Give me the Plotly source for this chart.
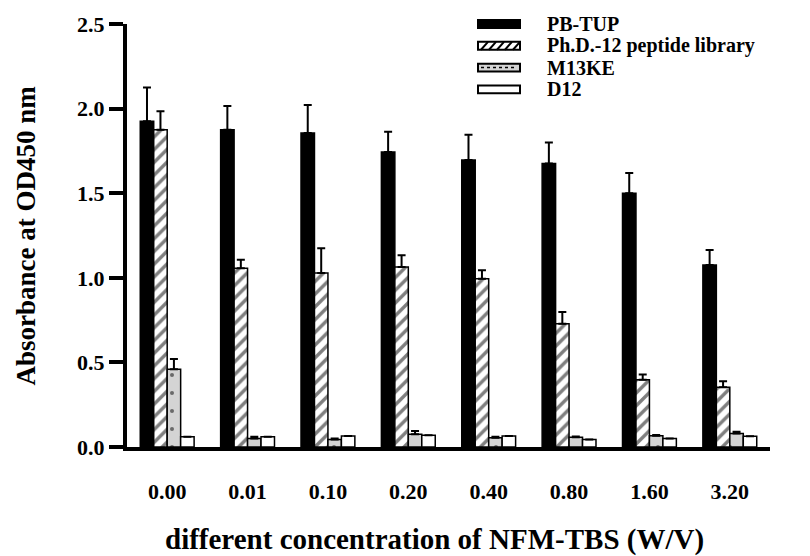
import plotly.graph_objects as go

categories = ["0.00", "0.01", "0.10", "0.20", "0.40", "0.80", "1.60", "3.20"]
series_names = ["PB-TUP", "Ph.D.-12 peptide library", "M13KE", "D12"]

pb_tup = [1.925, 1.875, 1.856, 1.743, 1.696, 1.675, 1.499, 1.075]
pb_tup_err = [0.20, 0.14, 0.165, 0.12, 0.15, 0.125, 0.12, 0.09]
phd12 = [1.875, 1.056, 1.029, 1.064, 0.995, 0.728, 0.398, 0.353]
phd12_err = [0.11, 0.05, 0.145, 0.07, 0.05, 0.07, 0.03, 0.035]
m13ke = [0.46, 0.05, 0.045, 0.075, 0.055, 0.057, 0.066, 0.08]
m13ke_err = [0.06, 0.01, 0.005, 0.02, 0.005, 0.005, 0.005, 0.01]
d12 = [0.06, 0.06, 0.065, 0.07, 0.065, 0.045, 0.05, 0.064]
d12_err = [0, 0, 0, 0, 0, 0, 0, 0]

y_ticks = [0.0, 0.5, 1.0, 1.5, 2.0, 2.5]

FONT = "Liberation Serif"

fig = go.Figure()

def add_series(name, vals, errs, color, pattern=None):
    marker = dict(color=color, line=dict(color="black", width=1.5))
    if pattern:
        marker["pattern"] = pattern
    fig.add_trace(go.Bar(
        name=name, x=categories, y=vals, marker=marker,
        error_y=dict(type="data", array=errs, arrayminus=[0] * len(errs),
                     symmetric=False, color="black", thickness=2, width=4),
        showlegend=False,
    ))

add_series(series_names[0], pb_tup, pb_tup_err, "black")
add_series(series_names[1], phd12, phd12_err, "white",
           dict(shape="/", fgcolor="black", bgcolor="white", size=9, solidity=0.38))
add_series(series_names[2], m13ke, m13ke_err, "#d4d4d4",
           dict(shape=".", fgcolor="black", bgcolor="#d4d4d4", size=18, solidity=0.04))
add_series(series_names[3], d12, d12_err, "white")

# plot area geometry (pixels) for legend placement
L, R, T, B = 127, 40, 20, 109
W, H = 810, 556
PW, PH = W - L - R, H - T - B

def px(x):
    return (x - L) / PW

def py(y):
    return (H - B - y) / PH

shapes = []
annotations = []
rows_y = [20, 42, 64, 86]
sx0, sx1 = 478, 520
hh = 4
for i, (name, yc) in enumerate(zip(series_names, rows_y)):
    fill = ["black", "white", "#d4d4d4", "white"][i]
    shapes.append(dict(type="rect", xref="paper", yref="paper",
                       x0=px(sx0), x1=px(sx1), y0=py(yc + hh), y1=py(yc - hh),
                       fillcolor=fill, line=dict(color="black", width=2)))
    if i == 1:
        path = ""
        xs = sx0 + 3
        while xs < sx1 - 2:
            path += f"M{px(xs)},{py(yc + hh)} L{px(xs + 7)},{py(yc - hh)} "
            xs += 8
        shapes.append(dict(type="path", xref="paper", yref="paper", path=path,
                           line=dict(color="black", width=2)))
    if i == 2:
        shapes.append(dict(type="line", xref="paper", yref="paper",
                           x0=px(sx0 + 3), x1=px(sx1 - 3), y0=py(yc), y1=py(yc),
                           line=dict(color="black", width=1.5, dash="dot")))
    annotations.append(dict(text=name, xref="paper", yref="paper",
                            x=px(545), y=py(yc), xanchor="left", yanchor="middle",
                            showarrow=False,
                            font=dict(family=FONT, size=20, color="black", weight="bold")))

annotations.append(dict(text="Absorbance at OD450 nm", xref="paper", yref="paper",
                        x=px(25), y=0.5, xanchor="center", yanchor="middle",
                        textangle=-90, showarrow=False,
                        font=dict(family=FONT, size=27, color="black", weight="bold")))
annotations.append(dict(text="different concentration of NFM-TBS (W/V)", xref="paper", yref="paper",
                        x=px(434), y=py(540), xanchor="center", yanchor="middle",
                        showarrow=False,
                        font=dict(family=FONT, size=29, color="black", weight="bold")))

fig.update_layout(
    width=W, height=H,
    margin=dict(l=L, r=R, t=T, b=B),
    paper_bgcolor="white", plot_bgcolor="white",
    barmode="group", bargap=0.33, bargroupgap=0,
    font=dict(family=FONT, color="black", weight="bold"),
    shapes=shapes, annotations=annotations,
    showlegend=False,
)
fig.update_xaxes(
    showline=True, linecolor="black", linewidth=4, ticks="",
    showgrid=False, zeroline=False, ticklabelstandoff=22,
    tickfont=dict(family=FONT, size=22, color="black", weight="bold"),
)
fig.update_yaxes(
    range=[0, 2.5], tickvals=y_ticks, tickformat=".1f",
    showline=True, linecolor="black", linewidth=4,
    ticks="outside", ticklen=14, tickwidth=4, tickcolor="black",
    showgrid=False, zeroline=False,
    tickfont=dict(family=FONT, size=22, color="black", weight="bold"),
)

fig.write_html("out.html")
